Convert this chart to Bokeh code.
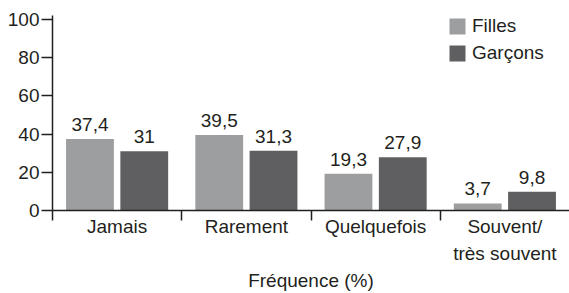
from bokeh.plotting import figure
from bokeh.models import (ColumnDataSource, Range1d, FixedTicker, Legend,
                          LegendItem, LinearAxis)
from bokeh.transform import dodge
from bokeh.core.properties import value
from bokeh.embed import file_html
from bokeh.resources import INLINE

categories = ["Jamais", "Rarement", "Quelquefois", "Souvent/\ntrès souvent"]
series_names = ["Filles", "Garçons"]
filles = [37.4, 39.5, 19.3, 3.7]
garcons = [31, 31.3, 27.9, 9.8]
y_ticks = [0, 20, 40, 60, 80, 100]

FONT = "Liberation Sans"
FS = "19px"
INK = "#231f20"
C_F = "#9d9ea0"
C_G = "#5f5f61"

def fmt(v):
    return (f"{v:g}").replace(".", ",")

n = len(categories)
centers = [i + 0.5 for i in range(n)]
bounds = list(range(n))
src = ColumnDataSource(dict(
    center=centers, filles=filles, garcons=garcons,
    lf=[fmt(v) for v in filles], lg=[fmt(v) for v in garcons],
))

p = figure(
    x_range=Range1d(0, n),
    y_range=Range1d(0, 102.1),
    width=569, height=293,
    output_backend="svg", toolbar_location=None,
    min_border_left=52, min_border_top=15, min_border_right=0,
    min_border_bottom=82,
    x_axis_location=None,
)
p.outline_line_color = None
p.grid.grid_line_color = None
p.background_fill_color = None
p.border_fill_color = None

off = 0.21
bw = 0.37
rf = p.vbar(x=dodge("center", -off), top="filles", bottom=0,
            width=bw, source=src, fill_color=C_F, line_color=None)
rg = p.vbar(x=dodge("center", off), top="garcons", bottom=0,
            width=bw, source=src, fill_color=C_G, line_color=None)

p.text(x=dodge("center", -off), y="filles", text="lf", source=src,
       text_align="center", text_baseline="bottom", y_offset=-8,
       text_font=value(FONT), text_font_size=value(FS), text_color=INK)
p.text(x=dodge("center", off), y="garcons", text="lg", source=src,
       text_align="center", text_baseline="bottom", y_offset=-8,
       text_font=value(FONT), text_font_size=value(FS), text_color=INK)

# y axis
ya = p.yaxis[0]
ya.ticker = FixedTicker(ticks=y_ticks)
ya.axis_line_color = INK
ya.axis_line_width = 1.5
ya.major_tick_line_color = INK
ya.major_tick_line_width = 1.5
ya.major_tick_out = 11
ya.major_tick_in = 0
ya.minor_tick_line_color = None
ya.major_label_standoff = 2
ya.major_label_text_font = FONT
ya.major_label_text_font_size = FS
ya.major_label_text_color = INK

# axis line + category boundary ticks
sep_axis = LinearAxis(ticker=FixedTicker(ticks=bounds),
                      major_label_overrides={b: "" for b in bounds})
sep_axis.axis_line_color = INK
sep_axis.axis_line_width = 1.5
sep_axis.major_tick_line_color = INK
sep_axis.major_tick_line_width = 1.5
sep_axis.major_tick_out = 10
sep_axis.major_tick_in = 0
sep_axis.minor_tick_line_color = None
sep_axis.major_label_text_font_size = "1px"
sep_axis.major_label_standoff = 0

# category labels
xa = LinearAxis(ticker=FixedTicker(ticks=centers),
                major_label_overrides={c: lab for c, lab in zip(centers, categories)})
xa.axis_line_color = None
xa.major_tick_line_color = None
xa.major_tick_out = 0
xa.major_tick_in = 0
xa.minor_tick_line_color = None
xa.major_label_standoff = -5
xa.major_label_text_font = FONT
xa.major_label_text_font_size = FS
xa.major_label_text_color = INK
xa.major_label_text_line_height = 1.3
xa.axis_label = "Fréquence (%)"
xa.axis_label_text_font = FONT
xa.axis_label_text_font_size = FS
xa.axis_label_text_font_style = "normal"
xa.axis_label_text_color = INK
xa.axis_label_standoff = 3

p.below = [sep_axis, xa]

legend = Legend(items=[LegendItem(label=series_names[0], renderers=[rf]),
                       LegendItem(label=series_names[1], renderers=[rg])],
                location=(395, 146))
legend.padding = 0
legend.margin = 0
legend.spacing = 5
legend.border_line_color = None
legend.background_fill_alpha = 0
legend.glyph_width = 20
legend.glyph_height = 20
legend.label_height = 20
legend.label_standoff = 5
legend.label_text_font = FONT
legend.label_text_font_size = FS
legend.label_text_color = INK
p.add_layout(legend, "center")

open("out.html", "w").write(file_html(p, INLINE))
